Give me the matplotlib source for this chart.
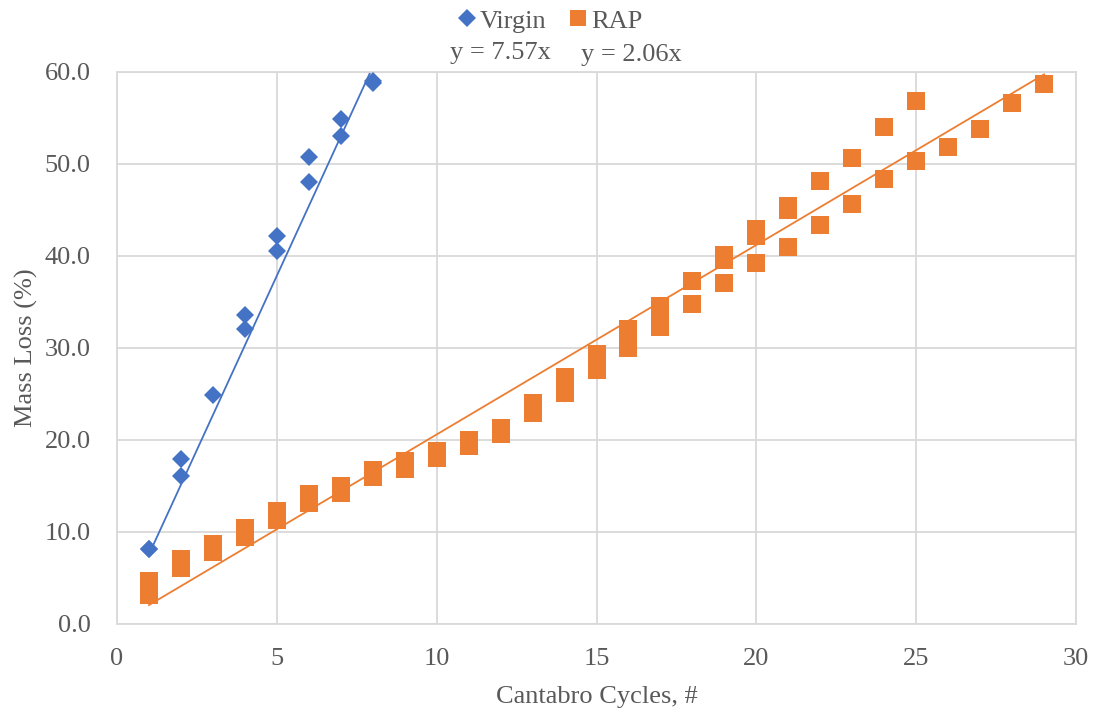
import matplotlib
matplotlib.use("Agg")
import matplotlib.pyplot as plt
import numpy as np
from matplotlib.lines import Line2D

plt.rcParams['font.family'] = ['Liberation Serif', 'DejaVu Serif']

# Virgin mixture: mass loss (%) per Cantabro cycle
virgin_cycles = [1, 1, 2, 2, 3, 4, 4, 5, 5, 6, 6, 7, 7, 8, 8]
virgin_loss = [8.1, 8.2, 17.9, 16.1, 24.9, 33.6, 32.1, 42.2, 40.5, 50.8, 48.0, 54.9, 53.0, 58.8, 59.0]

# RAP mixture: mass loss (%) per Cantabro cycle
rap_cycles = [1, 1, 2, 2, 3, 3, 4, 4, 5, 5, 6, 6, 7, 7, 8, 8, 9, 9, 10, 10,
              11, 11, 12, 12, 13, 13, 14, 14, 15, 15, 15, 16, 16, 16, 17, 17, 17,
              18, 18, 19, 19, 19, 20, 20, 20, 21, 21, 21, 22, 22, 23, 23,
              24, 24, 25, 25, 26, 27, 28, 29]
rap_loss = [4.7, 3.2, 7.1, 6.1, 8.7, 7.8, 10.4, 9.5, 12.3, 11.3, 14.1, 13.2, 15.0, 14.2,
            16.7, 16.0, 17.7, 16.9, 18.8, 18.0, 20.0, 19.3, 21.3, 20.6, 24.0, 22.9,
            26.8, 25.1, 29.4, 28.5, 27.6, 32.1, 31.0, 30.0, 34.6, 33.4, 32.3,
            37.3, 34.8, 40.1, 39.6, 37.1, 42.9, 42.2, 39.2, 45.4, 45.0, 41.0,
            48.1, 43.4, 50.7, 45.7, 54.0, 48.4, 56.8, 50.3, 51.8, 53.8, 56.6, 58.7]

# Linear trendlines forced through the origin
virgin_slope = 7.57
rap_slope = 2.06

blue = '#4472C4'
orange = '#ED7D31'
text_gray = '#595959'
grid_gray = '#D9D9D9'

fig = plt.figure(figsize=(10.97, 7.13), dpi=100)
ax = fig.add_axes([117 / 1097, 1 - 624 / 713, (1076 - 117) / 1097, (624 - 72) / 713])

ax.set_xlim(0, 30)
ax.set_ylim(0, 60)
ax.set_xticks(np.arange(0, 31, 5))
ax.set_yticks(np.arange(0, 61, 10))
ax.set_yticklabels([f"{v:.1f}" for v in np.arange(0, 61, 10)])
ax.grid(True, color=grid_gray, linewidth=1.3)
ax.set_axisbelow(True)
for s in ax.spines.values():
    s.set_color(grid_gray)
    s.set_linewidth(1.3)
ax.tick_params(length=0, labelsize=19, labelcolor=text_gray)
ax.tick_params(axis='y', pad=19)
ax.tick_params(axis='x', pad=17)

# trendlines
xv = np.linspace(1, max(virgin_cycles), 50)
ax.plot(xv, virgin_slope * xv, color=blue, linewidth=1.3, zorder=2)
xr = np.linspace(1, max(rap_cycles), 50)
ax.plot(xr, rap_slope * xr, color=orange, linewidth=1.3, zorder=2)

ax.plot(rap_cycles, rap_loss, linestyle='none', marker='s', markersize=13.3,
        color=orange, markeredgewidth=0, zorder=3)
ax.plot(virgin_cycles, virgin_loss, linestyle='none', marker='D', markersize=9.3,
        color=blue, markeredgewidth=0, zorder=4)

ax.set_xlabel('Cantabro Cycles, #', fontsize=19, color=text_gray, labelpad=12)
ax.set_ylabel('Mass Loss (%)', fontsize=19, color=text_gray, labelpad=5)

handles = [
    Line2D([], [], linestyle='none', marker='D', markersize=9, color=blue, markeredgewidth=0),
    Line2D([], [], linestyle='none', marker='s', markersize=12, color=orange, markeredgewidth=0),
]
fig.legend(handles, ['Virgin', 'RAP'], loc='center', bbox_to_anchor=(551 / 1097, 1 - 21 / 713),
           ncol=2, frameon=False, fontsize=19, handlelength=0.6, handletextpad=0.2,
           columnspacing=0.9, labelcolor=text_gray, borderpad=0)

fig.text(500 / 1097, 1 - 53 / 713, f'y = {virgin_slope:.2f}x', fontsize=19,
         color=text_gray, ha='center', va='center')
fig.text(631 / 1097, 1 - 55 / 713, f'y = {rap_slope:.2f}x', fontsize=19,
         color=text_gray, ha='center', va='center')

fig.savefig('out.png', dpi=100)
